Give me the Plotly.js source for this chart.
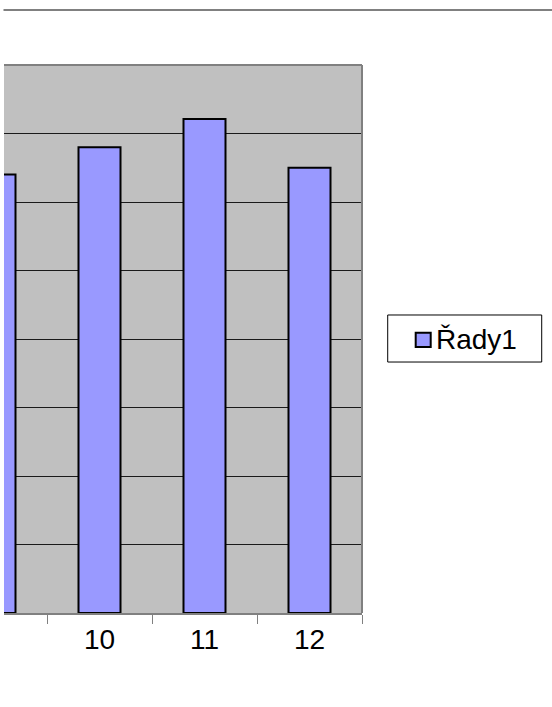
<!DOCTYPE html>
<html>
<head>
<meta charset="utf-8">
<script src="https://cdn.plot.ly/plotly-3.0.1.min.js"></script>
<style>html,body{margin:0;padding:0;background:#fff;}#chart{width:552px;height:707px;}</style>
</head>
<body>
<div id="chart"></div>
<script>
var categories = ['9', '10', '11', '12'];
var values = [6.40, 6.80, 7.21, 6.50];
var seriesName = 'Řady1';

var FONT = 'Liberation Sans, Arial, sans-serif';

var trace = {
  type: 'bar',
  x: categories,
  y: values,
  name: seriesName,
  marker: {color: '#9999FF', line: {color: '#000000', width: 2}},
  showlegend: false
};

var layout = {
  width: 552, height: 707,
  margin: {l: 4, r: 190, t: 65, b: 94, pad: 0},
  paper_bgcolor: '#FFFFFF',
  plot_bgcolor: '#C0C0C0',
  bargap: 0.6,
  font: {family: FONT, size: 28, color: '#000'},
  xaxis: {
    type: 'category',
    range: [0.0905, 3.5],
    tickson: 'boundaries',
    ticks: 'outside', ticklen: 9, tickwidth: 1, tickcolor: '#808080',
    showline: true, linecolor: '#808080', linewidth: 2,
    showgrid: false, zeroline: false,
    tickfont: {size: 28, family: FONT, color: '#000'},
    fixedrange: true
  },
  yaxis: {
    range: [0, 8], dtick: 1,
    showticklabels: false, ticks: '',
    showgrid: true, gridcolor: '#1a1a1a', gridwidth: 1,
    zeroline: false, showline: false,
    fixedrange: true
  },
  showlegend: false,
  shapes: [
    {type: 'line', xref: 'paper', yref: 'paper', x0: 0, x1: 1, y0: 1, y1: 1, line: {color: '#808080', width: 2}},
    {type: 'line', xref: 'paper', yref: 'paper', x0: 1, x1: 1, y0: 0, y1: 1, line: {color: '#808080', width: 2}},
    {type: 'line', xref: 'paper', yref: 'paper', x0: -0.0014, x1: 1.531, y0: 1.1003, y1: 1.1003, line: {color: '#808080', width: 2}},
    /* legend box */
    {type: 'rect', xref: 'paper', yref: 'paper', x0: 1.0718, x1: 1.5020, y0: 0.458, y1: 0.5438, line: {color: '#000000', width: 1}, fillcolor: '#FFFFFF'},
    /* legend key */
    {type: 'rect', xref: 'paper', yref: 'paper', x0: 1.150, x1: 1.1919, y0: 0.4854, y1: 0.5115, line: {color: '#000000', width: 2}, fillcolor: '#9999FF'}
  ],
  annotations: [
    {xref: 'paper', yref: 'paper', x: 1.2011, y: 0.4991, xanchor: 'left', yanchor: 'middle', text: seriesName, showarrow: false, font: {size: 28, family: FONT, color: '#000'}}
  ]
};

Plotly.newPlot('chart', [trace], layout, {staticPlot: true, displayModeBar: false});
</script>
</body>
</html>
